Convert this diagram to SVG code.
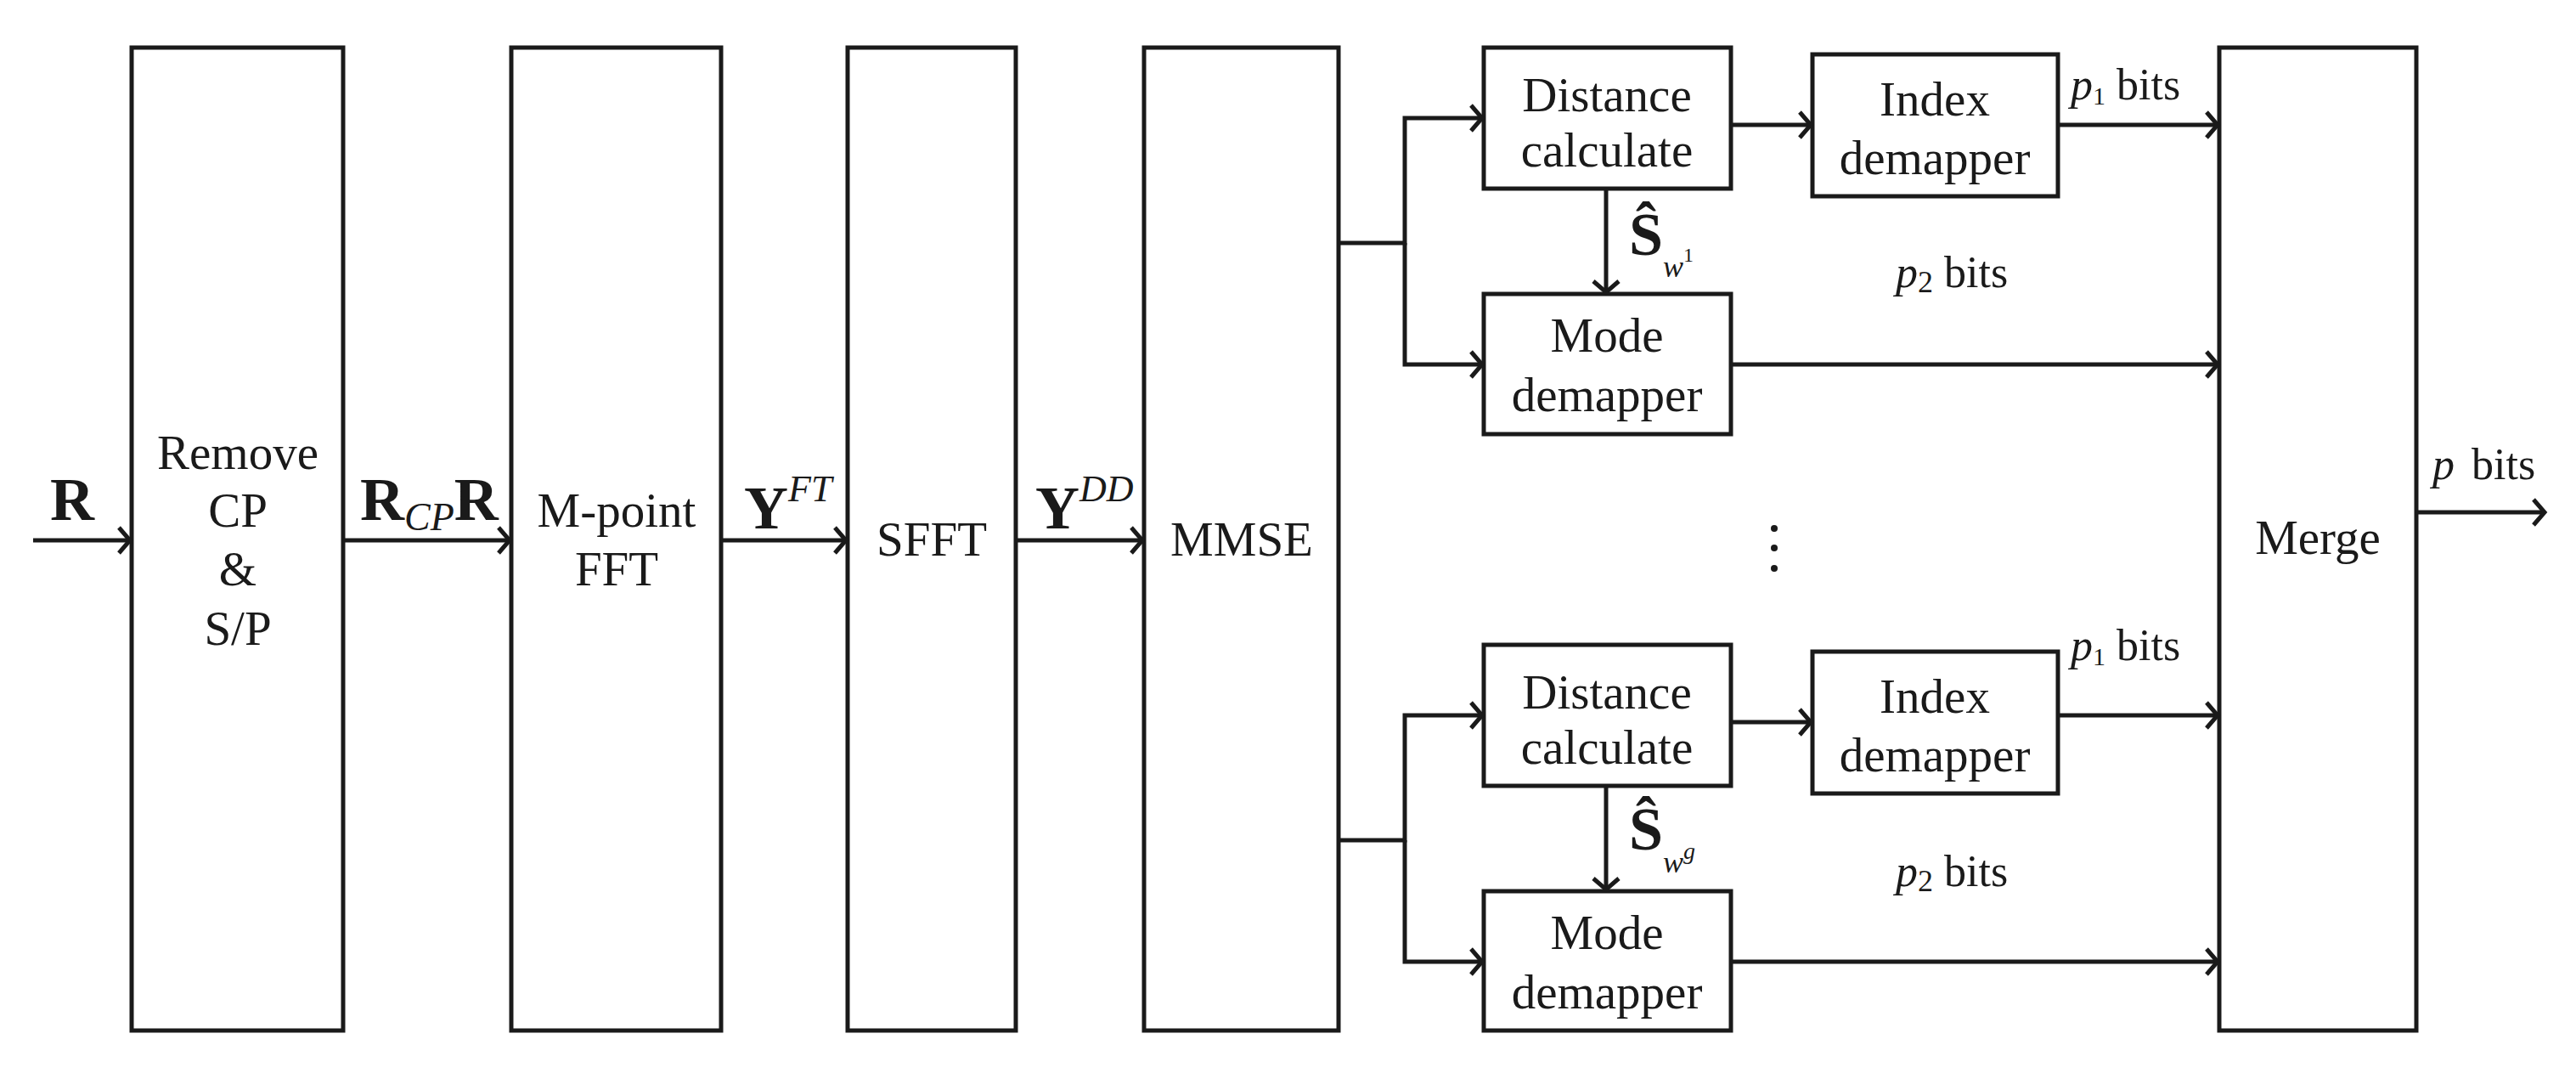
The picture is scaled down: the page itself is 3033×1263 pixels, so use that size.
<svg xmlns="http://www.w3.org/2000/svg" width="3033" height="1263" viewBox="0 0 3033 1263">
<style>
.b{fill:#fff;stroke:#1a1a1a;stroke-width:5}
.c{fill:none;stroke:#1a1a1a;stroke-width:5}
text{font-family:"Liberation Serif","Times New Roman",serif;fill:#1a1a1a}
.t{font-size:57px;text-anchor:middle}
.m{font-size:72px;font-weight:bold}
.i{font-style:italic}
</style>
<defs>
<marker id="a" markerUnits="userSpaceOnUse" markerWidth="40" markerHeight="40" viewBox="-20 -20 40 40" refX="0" refY="0" orient="auto">
<path d="M-13,-15 L0,0 L-13,15" fill="none" stroke="#1a1a1a" stroke-width="5"/>
</marker>
</defs>
<g id="n-remove"><rect class="b" x="155" y="56" width="249" height="1157"/>
<text class="t" x="280" y="552">Remove</text><text class="t" x="280" y="620">CP</text><text class="t" x="280" y="689">&amp;</text><text class="t" x="280" y="759">S/P</text></g>
<g id="n-fft"><rect class="b" x="602" y="56" width="247" height="1157"/>
<text class="t" x="726" y="620">M-point</text><text class="t" x="726" y="689">FFT</text></g>
<g id="n-sfft"><rect class="b" x="998" y="56" width="198" height="1157"/>
<text class="t" x="1097" y="654">SFFT</text></g>
<g id="n-mmse"><rect class="b" x="1347" y="56" width="229" height="1157"/>
<text class="t" x="1462" y="654">MMSE</text></g>
<g id="n-dist1"><rect class="b" x="1747" y="56" width="291" height="166"/>
<text class="t" x="1892" y="131">Distance</text><text class="t" x="1892" y="196">calculate</text></g>
<g id="n-index1"><rect class="b" x="2134" y="64" width="289" height="167"/>
<text class="t" x="2278" y="136">Index</text><text class="t" x="2278" y="205">demapper</text></g>
<g id="n-mode1"><rect class="b" x="1747" y="346" width="291" height="165"/>
<text class="t" x="1892" y="414">Mode</text><text class="t" x="1892" y="484">demapper</text></g>
<g id="n-dist2"><rect class="b" x="1747" y="759" width="291" height="166"/>
<text class="t" x="1892" y="834">Distance</text><text class="t" x="1892" y="899">calculate</text></g>
<g id="n-index2"><rect class="b" x="2134" y="767" width="289" height="167"/>
<text class="t" x="2278" y="839">Index</text><text class="t" x="2278" y="908">demapper</text></g>
<g id="n-mode2"><rect class="b" x="1747" y="1049" width="291" height="164"/>
<text class="t" x="1892" y="1117">Mode</text><text class="t" x="1892" y="1187">demapper</text></g>
<g id="n-merge"><rect class="b" x="2613" y="56" width="232" height="1157"/>
<text class="t" x="2729" y="652">Merge</text></g>
<g id="connectors">
<path class="c" d="M39,636 H153" marker-end="url(#a)"/>
<path class="c" d="M404,636 H600" marker-end="url(#a)"/>
<path class="c" d="M849,636 H996" marker-end="url(#a)"/>
<path class="c" d="M1196,636 H1345" marker-end="url(#a)"/>
<path class="c" d="M1576,286 H1654 V139 H1745" marker-end="url(#a)"/>
<path class="c" d="M1654,286 V429 H1745" marker-end="url(#a)"/>
<path class="c" d="M1576,989 H1654 V842 H1745" marker-end="url(#a)"/>
<path class="c" d="M1654,989 V1132 H1745" marker-end="url(#a)"/>
<path class="c" d="M2038,147 H2132" marker-end="url(#a)"/>
<path class="c" d="M2038,850 H2132" marker-end="url(#a)"/>
<path class="c" d="M2423,147 H2611" marker-end="url(#a)"/>
<path class="c" d="M2423,842 H2611" marker-end="url(#a)"/>
<path class="c" d="M2038,429 H2611" marker-end="url(#a)"/>
<path class="c" d="M2038,1132 H2611" marker-end="url(#a)"/>
<path class="c" d="M1891,222 V344" marker-end="url(#a)"/>
<path class="c" d="M1891,925 V1047" marker-end="url(#a)"/>
<path class="c" d="M2845,603 H2996" marker-end="url(#a)"/>
</g>
<g id="labels">
<text class="m" x="59" y="612">R</text>
<text x="424" y="612"><tspan class="m">R</tspan><tspan class="i" font-size="46" dy="12">CP</tspan><tspan class="m" dy="-12">R</tspan></text>
<text x="876" y="622"><tspan class="m">Y</tspan><tspan class="i" font-size="44" dy="-32">FT</tspan></text>
<text x="1219" y="622"><tspan class="m">Y</tspan><tspan class="i" font-size="44" dy="-32">DD</tspan></text>
<text x="1918" y="300"><tspan class="m" font-size="60">Ŝ</tspan><tspan class="i" font-size="36" dy="26">w</tspan><tspan font-size="24" dy="-18">1</tspan></text>
<text x="1918" y="1000"><tspan class="m" font-size="60">Ŝ</tspan><tspan class="i" font-size="36" dy="27">w</tspan><tspan class="i" font-size="28" dy="-16">g</tspan></text>
<text x="2438" y="117" font-size="52"><tspan class="i">p</tspan><tspan font-size="30" dy="6">1</tspan><tspan dy="-6"> bits</tspan></text>
<text x="2438" y="777" font-size="52"><tspan class="i">p</tspan><tspan font-size="30" dy="6">1</tspan><tspan dy="-6"> bits</tspan></text>
<text x="2232" y="338" font-size="52"><tspan class="i">p</tspan><tspan font-size="36" dy="6">2</tspan><tspan dy="-6"> bits</tspan></text>
<text x="2232" y="1043" font-size="52"><tspan class="i">p</tspan><tspan font-size="36" dy="6">2</tspan><tspan dy="-6"> bits</tspan></text>
<text x="2864" y="564" font-size="52"><tspan class="i">p</tspan><tspan dx="20">bits</tspan></text>
<circle cx="2089" cy="622" r="4" fill="#1a1a1a"/>
<circle cx="2089" cy="645" r="4" fill="#1a1a1a"/>
<circle cx="2089" cy="669" r="4" fill="#1a1a1a"/>
</g>
</svg>
